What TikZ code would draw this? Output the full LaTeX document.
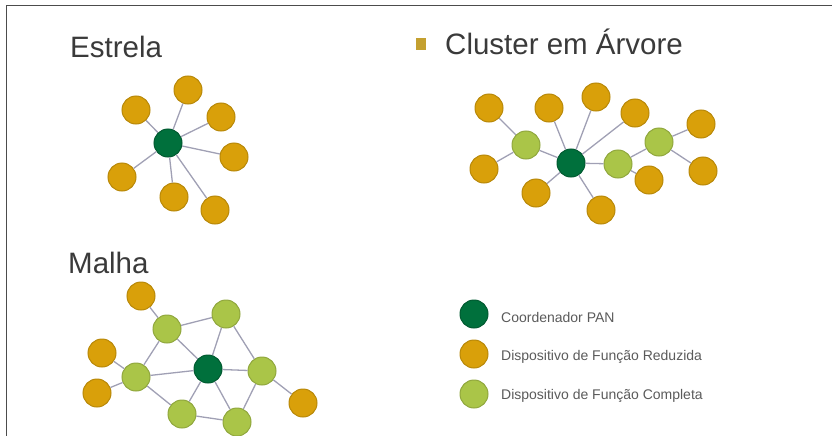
\documentclass[tikz,border=0pt]{standalone}
\usepackage{fontspec}
\setmainfont{Liberation Sans}
\definecolor{pancoord}{HTML}{00703C}
\definecolor{rfdgold}{HTML}{D9A00A}
\definecolor{ffdlime}{HTML}{AAC548}
\definecolor{linkgray}{HTML}{A0A0B4}
\definecolor{titlegray}{HTML}{3A3A3A}
\definecolor{legendgray}{HTML}{5A5A5A}
\definecolor{bulletgold}{HTML}{C4A030}
\tikzset{
  dev/.style={circle, minimum size=28pt, inner sep=0pt, line width=1pt},
  coord/.style={dev, fill=pancoord, draw=pancoord!80!black},
  rfd/.style={dev, fill=rfdgold, draw=rfdgold!85!black},
  ffd/.style={dev, fill=ffdlime, draw=ffdlime!85!black},
  link/.style={linkgray, line width=1.3pt},
  heading/.style={font=\fontsize{29.5}{32}\selectfont, text=titlegray, inner sep=0pt, anchor=base west},
  legendtext/.style={font=\fontsize{14}{16}\selectfont, text=legendgray, inner sep=0pt, anchor=west},
}
\begin{document}
\begin{tikzpicture}[x=1pt, y=-1pt]
\useasboundingbox (0,0) rectangle (832,436);
\draw[gray!60!black, line width=1pt] (6,436) -- (6,6) -- (832,6);
% titulos
\node[heading] (tEstrela) at (70,57) {Estrela};
\node[heading] (tArvore) at (445,55) {Cluster em Árvore};
\node[heading] (tMalha) at (68,273) {Malha};
\fill[bulletgold] (416,38) rectangle (426,50);
% estrela
\node[coord] (s0) at (168,143) {};
\foreach \nm/\x/\y in {s1/136/110, s2/188/90, s3/221/117, s4/234/157, s5/122/177, s6/174/197, s7/215/210}{
    \node[rfd] (\nm) at (\x,\y) {};
    \draw[link] (s0) -- (\nm);
}
% arvore
\node[coord] (t0) at (571,163) {};
\foreach \nm/\x/\y in {ta/526/145, tb/618/164, tc/659/142}{
    \node[ffd] (\nm) at (\x,\y) {};
}
\foreach \nm/\x/\y in {t1/489/108, t2/484/169, t3/549/108, t4/596/97, t5/635/113, t6/536/193, t7/601/210, t8/649/180, t9/701/124, t10/703/171}{
    \node[rfd] (\nm) at (\x,\y) {};
}
\foreach \a/\b in {ta/t1, ta/t2, t0/ta, t0/t3, t0/t4, t0/t5, t0/tb, t0/t6, t0/t7, tb/t8, tb/tc, tc/t9, tc/t10}{
    \draw[link] (\a) -- (\b);
}
% malha
\node[coord] (m0) at (208,369) {};
\foreach \nm/\x/\y in {ma/167/329, mb/226/314, mc/136/377, md/262/371, me/182/414, mf/237/422}{
    \node[ffd] (\nm) at (\x,\y) {};
}
\foreach \nm/\x/\y in {m1/141/296, m2/102/353, m3/97/393, m4/303/403}{
    \node[rfd] (\nm) at (\x,\y) {};
}
\foreach \a/\b in {m1/ma, ma/mb, ma/mc, ma/m0, mb/m0, mb/md, m2/mc, m3/mc, mc/m0, mc/me, m0/md, m0/me, m0/mf, me/mf, mf/md, md/m4}{
    \draw[link] (\a) -- (\b);
}
% legenda
\node[coord] (k1) at (474,314) {};
\node[rfd] (k2) at (474,354) {};
\node[ffd] (k3) at (474,394) {};
\node[legendtext] (l1) at (501,317) {Coordenador PAN};
\node[legendtext] (l2) at (501,357) {Dispositivo de Função Reduzida};
\node[legendtext] (l3) at (501,396) {Dispositivo de Função Completa};
\end{tikzpicture}
\end{document}
